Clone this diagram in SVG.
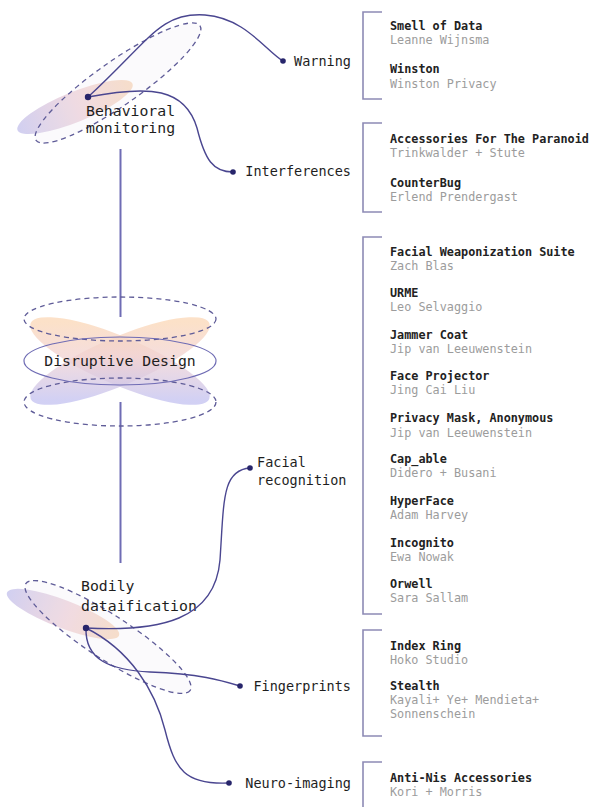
<svg xmlns="http://www.w3.org/2000/svg" width="597" height="807" viewBox="0 0 597 807">
<defs>
<linearGradient id="gBeh" x1="0" y1="0" x2="1" y2="0">
<stop offset="0" stop-color="#c9c7ee"/>
<stop offset="0.55" stop-color="#f0d2d8"/>
<stop offset="1" stop-color="#f8d5b6"/>
</linearGradient>
<linearGradient id="gPetalA" gradientUnits="userSpaceOnUse" x1="0" y1="322" x2="0" y2="400" gradientTransform="rotate(-23 120 361)">
<stop offset="0" stop-color="#fbd7b6"/>
<stop offset="0.45" stop-color="#f1d2d2"/>
<stop offset="1" stop-color="#c3c1f0"/>
</linearGradient>
<linearGradient id="gPetalB" gradientUnits="userSpaceOnUse" x1="0" y1="322" x2="0" y2="400" gradientTransform="rotate(23 120 361)">
<stop offset="0" stop-color="#fbd7b6"/>
<stop offset="0.45" stop-color="#f1d2d2"/>
<stop offset="1" stop-color="#c3c1f0"/>
</linearGradient>
<style>
.mono{font-family:"DejaVu Sans Mono","Liberation Mono",monospace;}
.big{font-size:14.8px;fill:#1e1e1e;}
.lbl{font-size:13.5px;fill:#1e1e1e;}
.ttl{font-size:11.8px;fill:#222222;font-weight:bold;}
.sub{font-size:11.8px;fill:#9c9c9c;}
.dash{fill:#e9e8f2;fill-opacity:0.2;stroke:#5f5c98;stroke-width:1.3;stroke-dasharray:5 4;}
.conn{fill:none;stroke:#4a4690;stroke-width:1.4;}
.trunk{fill:none;stroke:#6f6cb4;stroke-width:2;}
.dot{fill:#27256b;}
.brk{fill:none;stroke:#8d8ab5;stroke-width:1.6;}
</style>
</defs>
<rect width="597" height="807" fill="#ffffff"/>

<g id="trunk">
<line class="trunk" x1="120.5" y1="149" x2="120.5" y2="317"/>
<line class="trunk" x1="120.5" y1="402" x2="120.5" y2="563"/>
</g>

<g id="node-behavioral">
<ellipse cx="75" cy="107" rx="62" ry="15" transform="rotate(-22 75 107)" fill="url(#gBeh)" opacity="0.85"/>
<ellipse class="dash" cx="118" cy="83" rx="100" ry="22" transform="rotate(-35 118 83)"/>
<text class="mono big" x="86" y="116">Behavioral</text>
<text class="mono big" x="86" y="133">monitoring</text>
</g>

<g id="node-disruptive">
<ellipse cx="120" cy="361" rx="97" ry="24" transform="rotate(23 120 361)" fill="url(#gPetalA)" opacity="0.75"/>
<ellipse cx="120" cy="361" rx="97" ry="24" transform="rotate(-23 120 361)" fill="url(#gPetalB)" opacity="0.75"/>
<ellipse cx="120" cy="319" rx="96" ry="22" fill="none" stroke="#5f5c98" stroke-width="1.3" stroke-dasharray="5 4"/>
<ellipse cx="120" cy="402" rx="96" ry="24" fill="none" stroke="#5f5c98" stroke-width="1.3" stroke-dasharray="5 4"/>
<ellipse cx="120" cy="361" rx="96" ry="24" fill="none" stroke="#6f6cb4" stroke-width="1.2"/>
<text class="mono big" x="120" y="366" text-anchor="middle">Disruptive Design</text>
</g>

<g id="node-bodily">
<ellipse cx="63" cy="614" rx="60" ry="14" transform="rotate(21 63 614)" fill="url(#gBeh)" opacity="0.85"/>
<ellipse class="dash" cx="108" cy="637" rx="98" ry="22" transform="rotate(33 108 637)"/>
<text class="mono big" x="81" y="591">Bodily</text>
<text class="mono big" x="81" y="611">dataification</text>
</g>

<g id="connectors">
<path class="conn" d="M88,97 C150,40 160,12 205,15 C245,18 265,50 283,61"/>
<path class="conn" d="M88,97 C150,85 185,88 197,128 C205,160 213,172 233,172"/>
<path class="conn" d="M86,628 C160,632 215,620 220,560 C224,500 222,470 250,468"/>
<path class="conn" d="M86,628 C85,660 110,670 150,672 C200,674 220,680 240,686"/>
<path class="conn" d="M86,628 C130,650 155,690 165,730 C175,770 185,785 229,783"/>
<circle class="dot" cx="88" cy="97" r="3.2"/>
<circle class="dot" cx="86" cy="628" r="3.2"/>
</g>

<g id="node-warning">
<circle class="dot" cx="283" cy="61" r="2.8"/>
<text class="mono lbl" x="351" y="66" text-anchor="end">Warning</text>
</g>
<g id="node-interferences">
<circle class="dot" cx="233" cy="172" r="2.8"/>
<text class="mono lbl" x="351" y="176" text-anchor="end">Interferences</text>
</g>
<g id="node-facial">
<circle class="dot" cx="250" cy="468" r="2.8"/>
<text class="mono lbl" x="257" y="467">Facial</text>
<text class="mono lbl" x="257" y="485">recognition</text>
</g>
<g id="node-fingerprints">
<circle class="dot" cx="240" cy="686" r="2.8"/>
<text class="mono lbl" x="351" y="691" text-anchor="end">Fingerprints</text>
</g>
<g id="node-neuro">
<circle class="dot" cx="229" cy="783" r="2.8"/>
<text class="mono lbl" x="351" y="788" text-anchor="end">Neuro-imaging</text>
</g>

<g id="list-warning">
<path class="brk" d="M382,12 H363 V99 H382"/>
<text class="mono ttl" x="390" y="30">Smell of Data</text>
<text class="mono sub" x="390" y="44">Leanne Wijnsma</text>
<text class="mono ttl" x="390" y="73">Winston</text>
<text class="mono sub" x="390" y="88">Winston Privacy</text>
</g>

<g id="list-interferences">
<path class="brk" d="M382,123 H363 V212 H382"/>
<text class="mono ttl" x="390" y="143">Accessories For The Paranoid</text>
<text class="mono sub" x="390" y="157">Trinkwalder + Stute</text>
<text class="mono ttl" x="390" y="187">CounterBug</text>
<text class="mono sub" x="390" y="201">Erlend Prendergast</text>
</g>

<g id="list-facial">
<path class="brk" d="M382,237 H363 V614 H382"/>
<text class="mono ttl" x="390" y="256">Facial Weaponization Suite</text>
<text class="mono sub" x="390" y="270">Zach Blas</text>
<text class="mono ttl" x="390" y="297">URME</text>
<text class="mono sub" x="390" y="311">Leo Selvaggio</text>
<text class="mono ttl" x="390" y="339">Jammer Coat</text>
<text class="mono sub" x="390" y="353">Jip van Leeuwenstein</text>
<text class="mono ttl" x="390" y="380">Face Projector</text>
<text class="mono sub" x="390" y="394">Jing Cai Liu</text>
<text class="mono ttl" x="390" y="422">Privacy Mask, Anonymous</text>
<text class="mono sub" x="390" y="437">Jip van Leeuwenstein</text>
<text class="mono ttl" x="390" y="463">Cap_able</text>
<text class="mono sub" x="390" y="477">Didero + Busani</text>
<text class="mono ttl" x="390" y="505">HyperFace</text>
<text class="mono sub" x="390" y="519">Adam Harvey</text>
<text class="mono ttl" x="390" y="547">Incognito</text>
<text class="mono sub" x="390" y="561">Ewa Nowak</text>
<text class="mono ttl" x="390" y="588">Orwell</text>
<text class="mono sub" x="390" y="602">Sara Sallam</text>
</g>

<g id="list-fingerprints">
<path class="brk" d="M382,630 H363 V736 H382"/>
<text class="mono ttl" x="390" y="650">Index Ring</text>
<text class="mono sub" x="390" y="664">Hoko Studio</text>
<text class="mono ttl" x="390" y="690">Stealth</text>
<text class="mono sub" x="390" y="704">Kayali+ Ye+ Mendieta+</text>
<text class="mono sub" x="390" y="718">Sonnenschein</text>
</g>

<g id="list-neuro">
<path class="brk" d="M382,762 H363 V810"/>
<text class="mono ttl" x="390" y="782">Anti-Nis Accessories</text>
<text class="mono sub" x="390" y="796">Kori + Morris</text>
</g>
</svg>
